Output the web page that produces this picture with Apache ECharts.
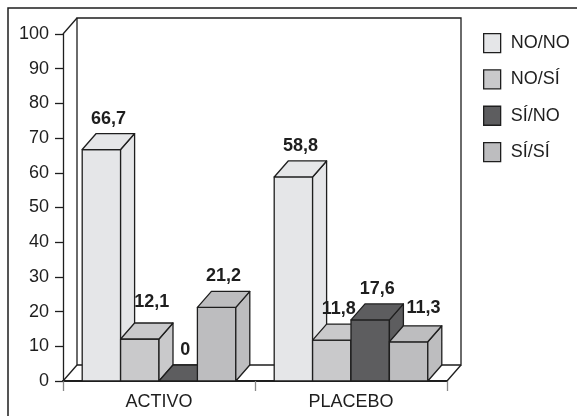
<!DOCTYPE html>
<html><head><meta charset="utf-8">
<script src="https://cdn.jsdelivr.net/npm/echarts@6/dist/echarts.min.js"></script>
<style>html,body{margin:0;padding:0;background:#fff}#c{width:577px;height:416px}</style>
</head><body><div id="c"></div>
<script>
// ---- data ----
const categories = ['ACTIVO', 'PLACEBO'];
const seriesNames = ['NO/NO', 'NO/SÍ', 'SÍ/NO', 'SÍ/SÍ'];
const noNo = [66.7, 58.8];
const noSi = [12.1, 11.8];
const siNo = [0, 17.6];
const siSi = [21.2, 11.3];
const yTicks = [0, 10, 20, 30, 40, 50, 60, 70, 80, 90, 100];

// ---- style ----
const FONT = 'Liberation Sans, Arial, sans-serif';
const INK = '#1e1e1e';
const colors = ['#e5e6e8', '#c9c9cb', '#5d5d5f', '#bdbdbf'];
const DX = 14, DY = -16;          // depth offset of the 3D effect
const GROUP = 0.8;                // fraction of category used by bars
const labelNudge = {'1-0': [5, -6], '3-1': [8, -3]};

const values = [noNo, noSi, siNo, siSi];
const fmt = v => String(v).replace('.', ',');

function barGeom(api, sIdx, cat, val) {
  const base = api.coord([cat, 0]);
  const top = api.coord([cat, val]);
  const catW = api.size([1, 0])[0];
  const bw = catW * GROUP / seriesNames.length;
  const x0 = base[0] - catW * GROUP / 2 + sIdx * bw;
  return {x0: x0, x1: x0 + bw, yb: base[1], yt: top[1]};
}

function barRender(sIdx) {
  return function (params, api) {
    const g = barGeom(api, sIdx, api.value(0), api.value(1));
    const st = {fill: colors[sIdx], stroke: INK, lineWidth: 1.3, lineJoin: 'round'};
    const x0 = g.x0, x1 = g.x1, yb = g.yb, yt = g.yt;
    return {type: 'group', children: [
      {type: 'polygon', shape: {points: [[x0, yb], [x1, yb], [x1, yt], [x0, yt]]}, style: st},
      {type: 'polygon', shape: {points: [[x1, yb], [x1 + DX, yb + DY], [x1 + DX, yt + DY], [x1, yt]]}, style: st},
      {type: 'polygon', shape: {points: [[x0, yt], [x1, yt], [x1 + DX, yt + DY], [x0 + DX, yt + DY]]}, style: st}
    ]};
  };
}

function wallRender(params, api) {
  const cs = params.coordSys;
  const x = cs.x, y = cs.y, w = cs.width, h = cs.height;
  const st = {fill: '#fff', stroke: INK, lineWidth: 1.3};
  const ln = {stroke: INK, lineWidth: 1.3, fill: null};
  return {type: 'group', children: [
    {type: 'polygon', shape: {points: [[x + DX, y + DY], [x + w + DX, y + DY], [x + w + DX, y + h + DY], [x + DX, y + h + DY]]}, style: st},
    {type: 'line', shape: {x1: x, y1: y, x2: x + DX, y2: y + DY}, style: ln},
    {type: 'line', shape: {x1: x, y1: y + h, x2: x + DX, y2: y + h + DY}, style: ln},
    {type: 'line', shape: {x1: x + w, y1: y + h, x2: x + w + DX, y2: y + h + DY}, style: ln}
  ]};
}

const labelData = [];
values.forEach((arr, s) => arr.forEach((v, c) => labelData.push([c, v, s])));

function labelRender(params, api) {
  const c = api.value(0), v = api.value(1), s = api.value(2);
  const g = barGeom(api, s, c, v);
  const n = labelNudge[s + '-' + c] || [0, 0];
  return {type: 'text', style: {
    text: fmt(v), x: (g.x0 + g.x1) / 2 + DX / 2 + n[0], y: g.yt + DY - 6 + n[1],
    textAlign: 'center', textVerticalAlign: 'bottom',
    font: 'bold 18px ' + FONT, fill: INK
  }};
}

const series = [{
  type: 'custom', name: '_wall', z: 1, silent: true,
  renderItem: wallRender, data: [[0, 0]]
}];
seriesNames.forEach((name, s) => {
  series.push({
    type: 'custom', name: name, z: 2,
    itemStyle: {color: colors[s], borderColor: INK, borderWidth: 1.3},
    renderItem: barRender(s),
    data: values[s].map((v, c) => [c, v])
  });
});
series.push({type: 'custom', name: '_labels', z: 5, renderItem: labelRender, data: labelData});

const chart = echarts.init(document.getElementById('c'), null, {renderer: 'canvas'});
chart.setOption({
  animation: false,
  backgroundColor: '#fff',
  graphic: [{type: 'rect', shape: {x: 8, y: 8, width: 640, height: 460},
    style: {fill: 'none', stroke: INK, lineWidth: 1.5}, z: 0}],
  grid: {left: 63, top: 34, width: 384, height: 347, containLabel: false},
  legend: {
    orient: 'vertical', left: 483, top: 33, padding: 0,
    itemWidth: 17, itemHeight: 19, itemGap: 16,
    textStyle: {fontSize: 18, fontFamily: FONT, color: INK, padding: [8, 0, 0, 5]},
    data: seriesNames.map((n, s) => ({name: n, icon: 'rect',
      itemStyle: {color: colors[s], borderColor: INK, borderWidth: 1.3}}))
  },
  xAxis: {
    type: 'category', data: categories,
    axisLine: {lineStyle: {color: INK, width: 2}},
    axisTick: {show: true, length: 10, lineStyle: {color: '#888', width: 1.3}},
    axisLabel: {fontSize: 18, fontFamily: FONT, color: INK, margin: 12},
    splitLine: {show: false}
  },
  yAxis: {
    type: 'value', min: yTicks[0], max: yTicks[yTicks.length - 1], interval: yTicks[1] - yTicks[0],
    axisLine: {show: true, lineStyle: {color: INK, width: 1.3}},
    axisTick: {show: true, length: 8, lineStyle: {color: INK, width: 1.3}},
    axisLabel: {fontSize: 18, fontFamily: FONT, color: INK, margin: 14},
    splitLine: {show: false}
  },
  series: series
});
</script></body></html>
